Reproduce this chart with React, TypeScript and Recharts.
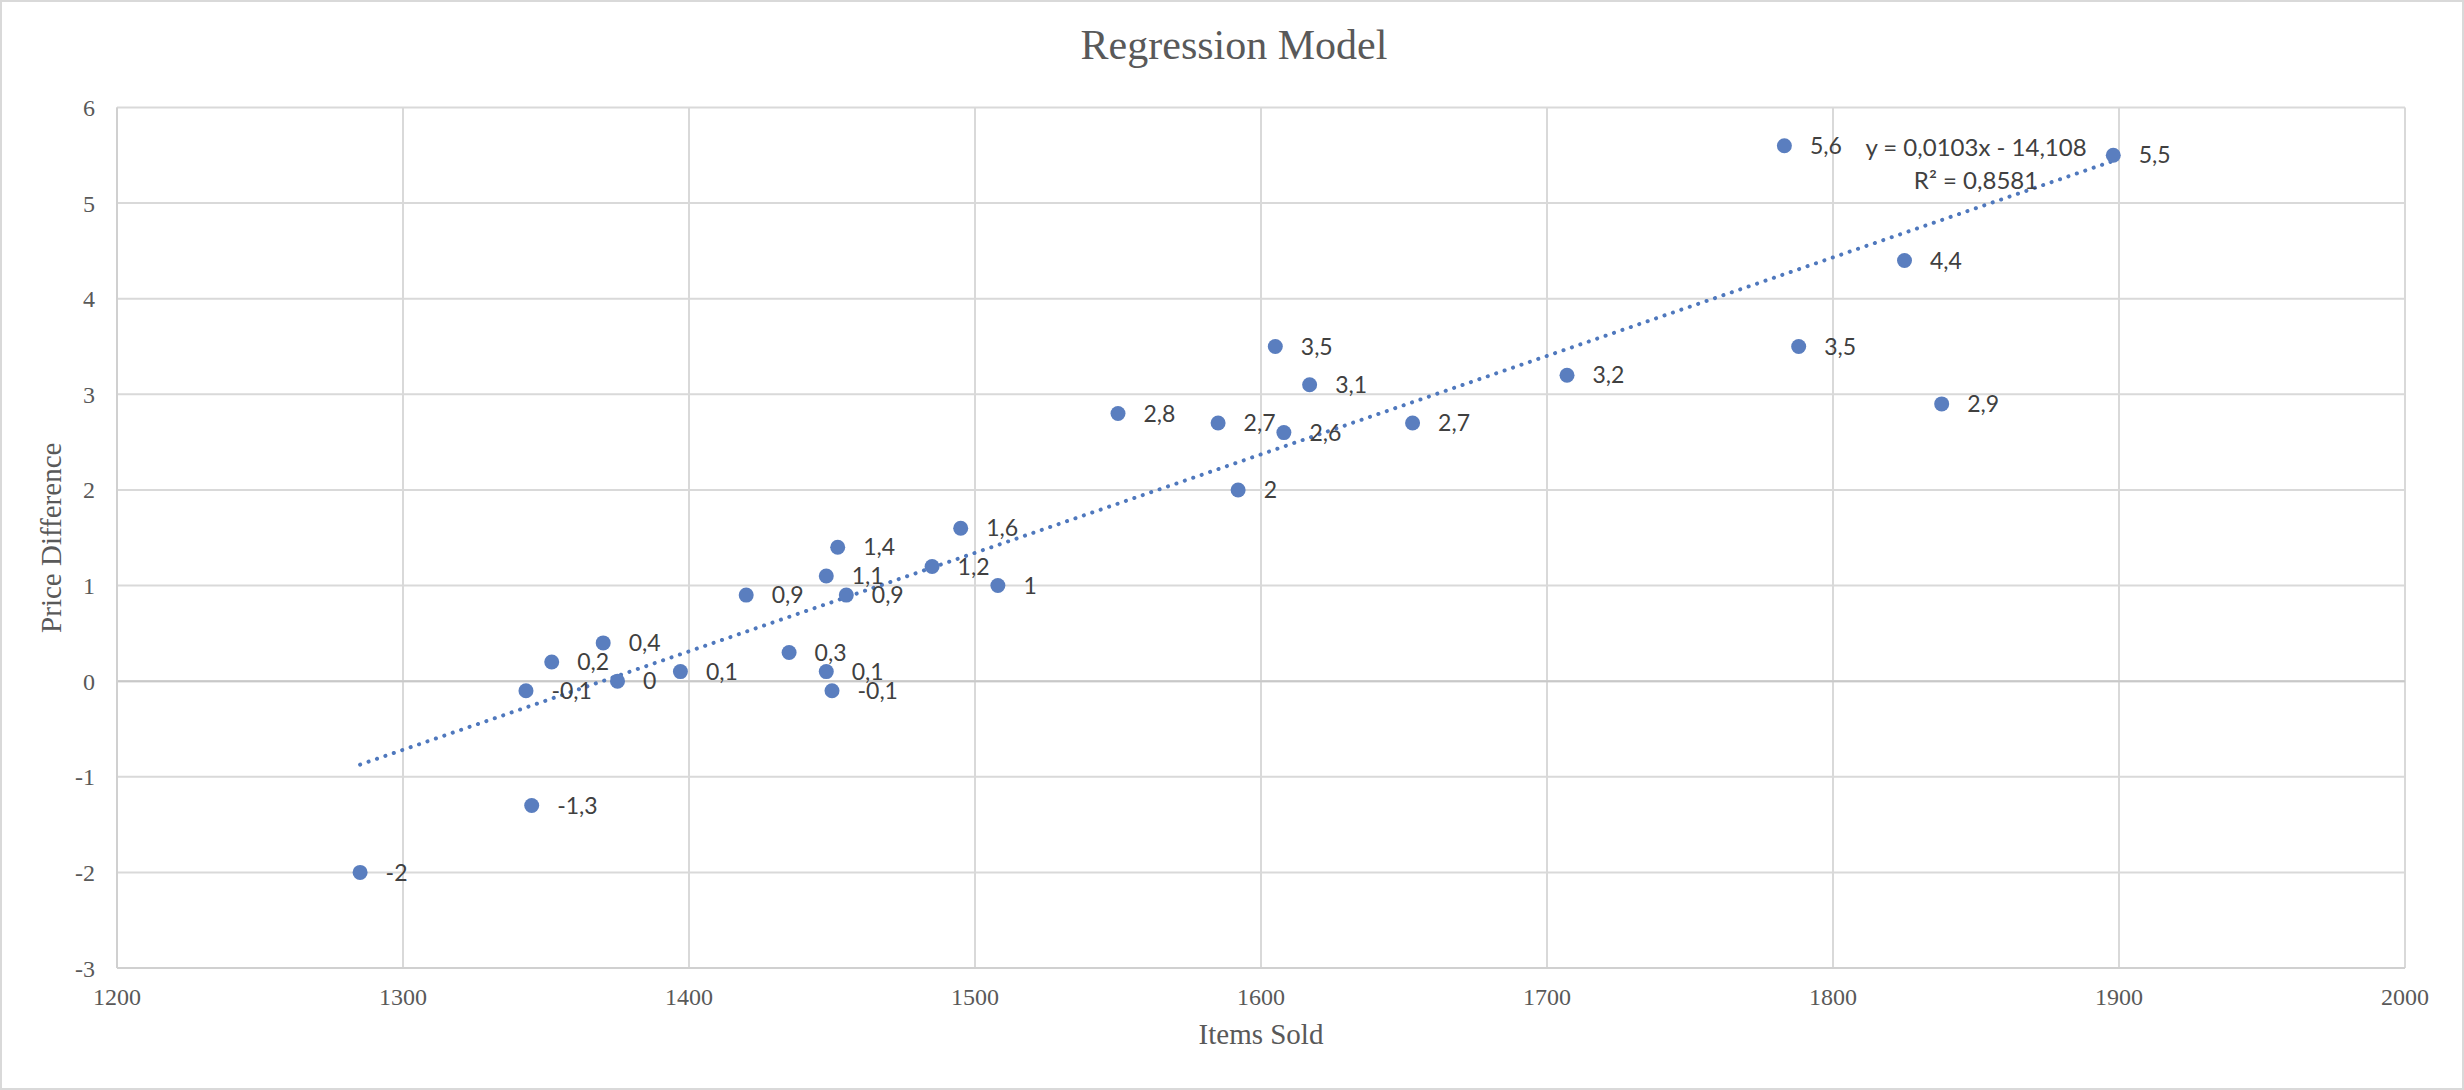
import React from "react";
import {
  ScatterChart,
  Scatter,
  XAxis,
  YAxis,
  CartesianGrid,
  ReferenceLine,
  ReferenceDot,
  LabelList,
} from "recharts";

// items sold vs price difference
const itemsSold = [
  1285, 1345, 1343, 1352, 1370, 1375, 1397, 1420, 1435, 1448, 1450, 1448, 1452, 1455, 1485,
  1495, 1508, 1550, 1585, 1592, 1605, 1617, 1608, 1653, 1707, 1783, 1788, 1825, 1838, 1898,
];
const priceDiff = [
  -2, -1.3, -0.1, 0.2, 0.4, 0, 0.1, 0.9, 0.3, 0.1, -0.1, 1.1, 1.4, 0.9, 1.2,
  1.6, 1, 2.8, 2.7, 2, 3.5, 3.1, 2.6, 2.7, 3.2, 5.6, 3.5, 4.4, 2.9, 5.5,
];

const xTicks = [1200, 1300, 1400, 1500, 1600, 1700, 1800, 1900, 2000];
const yTicks = [-3, -2, -1, 0, 1, 2, 3, 4, 5, 6];

// linear trendline as shown on the chart
const trendSlope = 0.0103;
const trendIntercept = -14.108;
const rSquared = 0.8581;
const eqAnchor = { x: 1850, y: 5.58 };
const r2Anchor = { x: 1850, y: 5.24 };

const points = itemsSold.map((x, i) => ({ x, y: priceDiff[i] }));
const minX = Math.min(...itemsSold);
const maxX = Math.max(...itemsSold);
const trendData = [minX, maxX].map((x) => ({ x, y: trendSlope * x + trendIntercept }));

const comma = (v: number | string) => String(v).replace(".", ",");

const BLUE = "#5a7ebf";
const GRID = "#d9d9d9";
const serif = "'Liberation Serif', 'Times New Roman', serif";
const sans = "Lato, 'Noto Sans', sans-serif";

const Dot = (p: any) => <circle cx={p.cx} cy={p.cy} r={7.5} fill={BLUE} />;

export default function App() {
  return (
    <div
      style={{
        position: "absolute",
        left: 0,
        top: 0,
        width: 2464,
        height: 1090,
        boxSizing: "border-box",
        border: "2px solid #d9d9d9",
        background: "#fff",
      }}
    >
      <div
        style={{
          position: "absolute",
          left: 0,
          top: 22,
          width: 2464,
          textAlign: "center",
          fontFamily: serif,
          fontSize: 42,
          lineHeight: "42px",
          color: "#595959",
        }}
      >
        Regression Model
      </div>
      <div style={{ position: "absolute", left: -2, top: -2 }}>
        <ScatterChart
          width={2464}
          height={1090}
          margin={{ top: 107.5, right: 59, left: 0, bottom: 42 }}
        >
          <CartesianGrid stroke={GRID} strokeWidth={2} />
          <XAxis
            type="number"
            dataKey="x"
            domain={[1200, 2000]}
            ticks={xTicks}
            allowDataOverflow
            height={80}
            tickSize={0}
            tickMargin={20}
            axisLine={{ stroke: "#d0d0d0", strokeWidth: 2 }}
            tick={{ fill: "#595959", fontSize: 24, fontFamily: serif }}
            label={{
              value: "Items Sold",
              position: "insideTop",
              offset: 55,
              fill: "#595959",
              fontSize: 29,
              fontFamily: serif,
            }}
          />
          <YAxis
            type="number"
            dataKey="y"
            domain={[-3, 6]}
            ticks={yTicks}
            allowDataOverflow
            width={117}
            tickSize={0}
            tickMargin={22}
            axisLine={{ stroke: "#d0d0d0", strokeWidth: 2 }}
            tick={{ fill: "#595959", fontSize: 24, fontFamily: serif }}
            label={{
              value: "Price Difference",
              angle: -90,
              position: "insideLeft",
              offset: 51,
              fill: "#595959",
              fontSize: 29,
              fontFamily: serif,
              style: { textAnchor: "middle" },
            }}
          />
          <ReferenceLine y={0} stroke="#c8c8c8" strokeWidth={2} />
          <Scatter
            data={trendData}
            isAnimationActive={false}
            line={{
              stroke: "#4f78bd",
              strokeWidth: 4,
              strokeDasharray: "0.1 8.8",
              strokeLinecap: "round",
            }}
            shape={() => <g />}
            legendType="none"
          />
          <Scatter data={points} fill={BLUE} shape={Dot} isAnimationActive={false}>
            <LabelList
              dataKey="y"
              position="right"
              offset={21}
              formatter={(v: any) => comma(v)}
              fill="#404040"
              fontSize={23}
              fontFamily={sans}
            />
          </Scatter>
          <ReferenceDot
            x={eqAnchor.x}
            y={eqAnchor.y}
            r={0}
            fill="none"
            stroke="none"
            ifOverflow="visible"
            label={{
              value: `y = ${comma(trendSlope)}x - ${comma(-trendIntercept)}`,
              position: "center",
              fill: "#404040",
              fontSize: 24,
              fontFamily: sans,
            }}
          />
          <ReferenceDot
            x={r2Anchor.x}
            y={r2Anchor.y}
            r={0}
            fill="none"
            stroke="none"
            ifOverflow="visible"
            label={{
              value: `R² = ${comma(rSquared)}`,
              position: "center",
              fill: "#404040",
              fontSize: 24,
              fontFamily: sans,
            }}
          />
        </ScatterChart>
      </div>
    </div>
  );
}
